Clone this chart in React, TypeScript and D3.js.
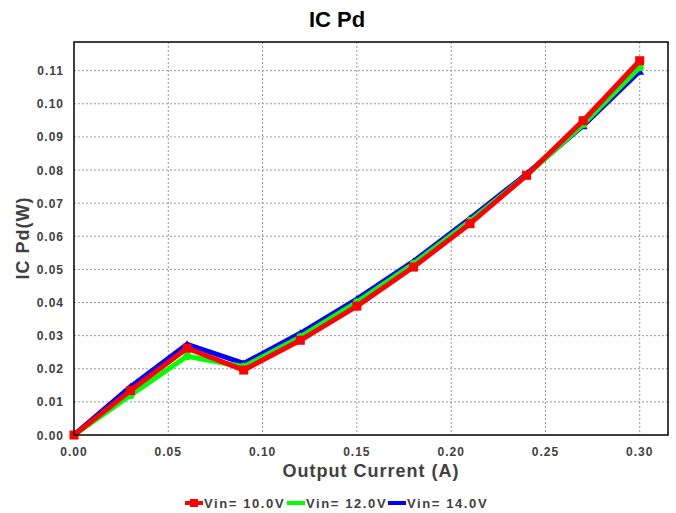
import React from "react";
import * as d3 from "d3";

const current = [0, 0.03, 0.06, 0.09, 0.12, 0.15, 0.18, 0.21, 0.24, 0.27, 0.3];
const vin10 = [0, 0.0134, 0.0262, 0.0196, 0.0286, 0.0389, 0.0507, 0.0638, 0.0784, 0.0949, 0.113];
const vin12 = [0, 0.012, 0.0238, 0.0206, 0.0296, 0.0401, 0.0517, 0.0646, 0.0784, 0.0938, 0.111];
const vin14 = [0, 0.0146, 0.0274, 0.0216, 0.0307, 0.041, 0.0524, 0.0654, 0.0788, 0.0934, 0.1098];
const xTicks = [0, 0.05, 0.1, 0.15, 0.2, 0.25, 0.3];
const yTicks = [0, 0.01, 0.02, 0.03, 0.04, 0.05, 0.06, 0.07, 0.08, 0.09, 0.1, 0.11];
const seriesNames = ["Vin= 10.0V", "Vin= 12.0V", "Vin= 14.0V"];
const seriesColors = ["#ff0000", "#00ff00", "#0000ff"];

const W = 676, H = 513;
const L = 74, R = 668, T = 42, B = 435;

export default function App() {
  const x = d3.scaleLinear().domain([0, 0.315]).range([L, R]);
  const y = d3.scaleLinear().domain([0, 0.11865]).range([B, T]);
  const line = d3.line<number>().x((_, i) => x(current[i])).y((d) => y(d));
  const series = [vin10, vin12, vin14];
  const drawOrder = [2, 1, 0];
  const font = "'Liberation Sans', Arial, sans-serif";
  const legendX = [185, 287, 388];

  const marker = (si: number, cx: number, cy: number, key: string) => {
    const c = seriesColors[si];
    if (si === 0) return <rect key={key} x={cx - 4.5} y={cy - 4.5} width={9} height={9} fill={c} />;
    if (si === 1) return <circle key={key} cx={cx} cy={cy} r={4} fill={c} />;
    return <path key={key} d={`M${cx},${cy - 4}L${cx + 4.5},${cy + 3.5}L${cx - 4.5},${cy + 3.5}Z`} fill={c} />;
  };

  return (
    <svg width={W} height={H} style={{ position: "absolute", left: 0, top: 0, background: "#fff" }} fontFamily={font}>
      <rect x={0} y={0} width={W} height={H} fill="#fff" />
      {xTicks.slice(1).map((t) => (
        <line key={"gx" + t} x1={x(t)} x2={x(t)} y1={T} y2={B} stroke="#999" strokeDasharray="2,2" strokeWidth={1} />
      ))}
      {yTicks.slice(1).map((t) => (
        <line key={"gy" + t} x1={L} x2={R} y1={y(t)} y2={y(t)} stroke="#999" strokeDasharray="2,2" strokeWidth={1} />
      ))}
      {drawOrder.map((si) => (
        <g key={"s" + si}>
          <path d={line(series[si]) || ""} fill="none" stroke={seriesColors[si]} strokeWidth={5} strokeLinejoin="round" />
          {series[si].map((v, i) => marker(si, x(current[i]), y(v), `m${si}-${i}`))}
        </g>
      ))}
      <rect x={L} y={T} width={R - L} height={B - T} fill="none" stroke="#000" strokeWidth={1.5} />
      {xTicks.map((t) => (
        <text key={"xt" + t} x={x(t)} y={456} textAnchor="middle" fontSize={12} fontWeight="bold" fill="#404040" letterSpacing={1}>
          {t.toFixed(2)}
        </text>
      ))}
      {yTicks.map((t) => (
        <text key={"yt" + t} x={64} y={y(t) + 4.5} textAnchor="end" fontSize={12} fontWeight="bold" fill="#404040" letterSpacing={1}>
          {t.toFixed(2)}
        </text>
      ))}
      <text x={337} y={27} textAnchor="middle" fontSize={22} fontWeight="bold" fill="#000">IC Pd</text>
      <text x={371} y={477} textAnchor="middle" fontSize={18} fontWeight="bold" fill="#404040" letterSpacing={1}>Output Current (A)</text>
      <text transform={`translate(29,238) rotate(-90)`} textAnchor="middle" fontSize={18} fontWeight="bold" fill="#404040" letterSpacing={1}>IC Pd(W)</text>
      {seriesNames.map((n, i) => (
        <g key={"lg" + i}>
          <line x1={legendX[i]} x2={legendX[i] + 18} y1={503} y2={503} stroke={seriesColors[i]} strokeWidth={4} />
          {i === 0 && <rect x={legendX[i] + 5} y={499} width={8} height={8} fill={seriesColors[i]} />}
          <text x={legendX[i] + 19} y={508} fontSize={13} fontWeight="bold" fill="#404040" letterSpacing={1.6}>{n}</text>
        </g>
      ))}
    </svg>
  );
}
